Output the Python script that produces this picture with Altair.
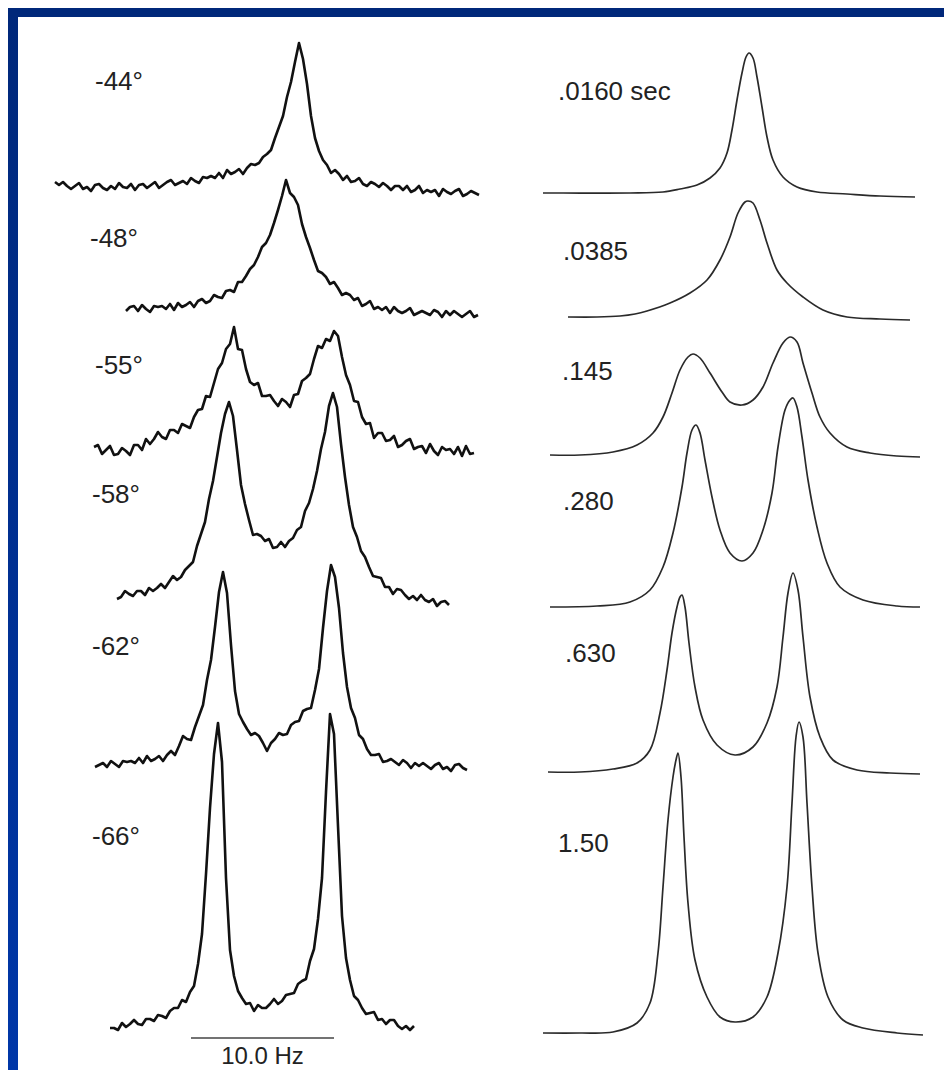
import altair as alt
import pandas as pd

# ---------------- experimental spectra (left column) ----------------
# heights above each trace's baseline, one sample every EXP_STEP figure units
EXP_NAMES = ["-44°", "-48°", "-55°", "-58°", "-62°", "-66°"]
EXP_44 = [8, 5, 8, 4, 1, 4, 7, 1, 3, -1,
          5, 6, 2, 0, 4, 1, 7, 3, 2, 6,
          0, 5, 6, 2, 5, 8, 2, 5, 8, 10,
          5, 7, 9, 6, 12, 9, 7, 13, 12, 14,
          12, 17, 12, 20, 16, 18, 21, 16, 22, 26,
          25, 27, 33, 36, 40, 52, 63, 74, 93, 108,
          128, 147, 131, 106, 74, 52, 39, 30, 25, 17,
          20, 16, 10, 14, 8, 9, 12, 6, 4, 8,
          6, 3, 7, 4, 0, 4, 4, 0, 4, -2,
          0, 4, -3, 0, -2, 0, -6, 1, -2, -4,
          -1, 1, -6, -4, -1, -3, -5]
EXP_48 = [4, 8, 9, 4, 10, 6, 3, 9, 8, 9,
          6, 11, 5, 12, 8, 10, 13, 8, 14, 16,
          12, 14, 20, 18, 17, 24, 25, 23, 33, 33,
          39, 46, 50, 58, 68, 72, 80, 92, 105, 119,
          135, 122, 118, 110, 91, 78, 67, 55, 44, 42,
          38, 31, 33, 27, 20, 22, 20, 15, 17, 9,
          11, 14, 6, 8, 5, 8, 2, 8, 4, 2,
          4, 7, 0, 2, 4, 2, 0, 5, 3, -2,
          4, 0, 4, 1, -2, 1, 4, -2, 0]
EXP_55 = [8, 10, 1, 5, 9, 0, 1, 7, 4, 0,
          10, 10, 5, 16, 11, 16, 23, 18, 16, 25,
          25, 22, 31, 29, 27, 38, 45, 46, 59, 58,
          72, 86, 92, 106, 111, 128, 106, 105, 86, 73,
          70, 72, 59, 59, 60, 54, 49, 56, 53, 48,
          60, 61, 74, 77, 81, 96, 109, 107, 116, 114,
          124, 119, 98, 80, 70, 54, 53, 38, 31, 32,
          17, 22, 22, 14, 15, 19, 8, 10, 14, 16,
          6, 8, 9, 2, 11, 4, 0, 8, 5, 6,
          1, 8, -1, 9, 1, 2]
EXP_58 = [4, 6, 12, 9, 7, 12, 12, 8, 15, 12,
          15, 19, 15, 21, 27, 23, 26, 33, 37, 41,
          57, 69, 81, 104, 122, 146, 170, 189, 201, 187,
          153, 118, 99, 83, 68, 69, 67, 62, 64, 55,
          56, 61, 56, 62, 65, 73, 76, 92, 100, 114,
          132, 154, 171, 197, 210, 196, 159, 126, 98, 76,
          66, 52, 46, 36, 27, 26, 25, 16, 16, 9,
          14, 13, 8, 4, 7, 3, 8, 3, 1, 4,
          -3, 1, 2, -2]
EXP_62 = [-2, 0, 2, -2, 4, 1, -2, 4, 3, 4,
          2, 7, 2, 9, 4, 6, 9, 4, 10, 14,
          10, 19, 29, 26, 25, 38, 49, 60, 85, 105,
          138, 173, 193, 172, 120, 74, 51, 43, 36, 30,
          32, 29, 22, 14, 22, 26, 32, 30, 31, 40,
          43, 44, 54, 56, 57, 75, 96, 137, 174, 200,
          188, 157, 112, 78, 57, 47, 30, 26, 16, 10,
          10, 11, 3, 4, 6, 3, 0, 5, 2, -3,
          2, -1, 2, -1, -4, 0, 2, -4, -2, -6,
          0, 1, -3, -5]
EXP_66 = [2, 2, 0, 7, 3, 6, 10, 6, 5, 11,
          11, 9, 15, 14, 12, 19, 22, 22, 30, 28,
          38, 44, 66, 96, 156, 222, 276, 307, 268, 152,
          80, 54, 39, 32, 26, 27, 19, 25, 22, 22,
          26, 31, 26, 29, 35, 36, 37, 46, 49, 51,
          69, 81, 111, 152, 238, 316, 296, 204, 114, 72,
          50, 34, 30, 22, 16, 17, 18, 10, 11, 6,
          10, 10, 4, 1, 4, 0, 4]
EXP_SERIES = [EXP_44, EXP_48, EXP_55, EXP_58, EXP_62, EXP_66]

# ---------------- simulated spectra (right column) ----------------
SIM_NAMES = [".0160 sec", ".0385", ".145", ".280", ".630", "1.50"]
SIM_X_0160 = [543, 563, 630, 663, 680, 697, 710, 720, 727, 732, 737, 742, 746,
              749, 753, 757, 762, 767, 773, 783, 797, 817, 847, 880, 915]
SIM_H_0160 = [0, 0, 0, 1, 4, 8, 15, 25, 40, 63, 93, 120, 136,
              140, 135, 116, 86, 56, 33, 16, 6, 1, -1, -3, -4]
SIM_X_0385 = [568, 597, 620, 635, 647, 670, 690, 707, 720, 730, 738, 745, 748, 753,
              760, 767, 777, 787, 803, 823, 847, 880, 910]
SIM_H_0385 = [0, 0, 1, 3, 6, 14, 24, 37, 57, 80, 104, 115, 116, 114,
              97, 74, 47, 34, 20, 7, 0, -2, -3]
SIM_X_145 = [550, 580, 613, 637, 653, 663, 672, 680, 688, 693, 700, 710, 722, 730,
             742, 753, 763, 773, 783, 790, 797, 803, 812, 820, 830, 847, 870, 897, 920]
SIM_H_145 = [0, 0, 3, 10, 22, 38, 62, 85, 98, 101, 97, 82, 63, 53,
             50, 55, 68, 92, 112, 118, 113, 92, 62, 38, 22, 8, 2, -1, -2]
SIM_X_280 = [550, 597, 630, 650, 663, 673, 682, 687, 692, 696, 700, 705, 712, 720,
             730, 742, 753, 763, 772, 778, 785, 790, 793, 797, 802, 808, 817, 827,
             840, 863, 897, 920]
SIM_H_280 = [0, 1, 5, 17, 40, 74, 120, 154, 177, 182, 174, 147, 110, 77,
             54, 46, 54, 77, 114, 160, 197, 207, 209, 200, 170, 127, 80, 44,
             20, 7, 1, 0]
SIM_X_630 = [548, 580, 613, 637, 650, 660, 667, 672, 677, 680, 682, 685, 689, 695,
             703, 717, 735, 753, 767, 777, 783, 788, 793, 798, 803, 810, 820, 833,
             857, 890, 920]
SIM_H_630 = [0, 0, 3, 9, 22, 59, 102, 139, 165, 175, 177, 165, 129, 85,
             52, 27, 17, 25, 49, 85, 135, 179, 199, 182, 135, 75, 35, 12,
             2, -1, -2]
SIM_X_150 = [543, 580, 613, 637, 650, 658, 663, 668, 673, 676, 678, 681, 684, 688,
             695, 707, 720, 735, 753, 767, 778, 787, 792, 796, 799, 803, 807, 812,
             818, 828, 843, 863, 897, 923]
SIM_H_150 = [0, 0, 1, 10, 30, 80, 146, 213, 256, 273, 280, 256, 196, 130,
             73, 36, 16, 11, 16, 36, 80, 146, 230, 296, 311, 296, 230, 146,
             80, 36, 13, 5, 0, -2]
SIM_SERIES = [(SIM_X_0160, SIM_H_0160), (SIM_X_0385, SIM_H_0385),
              (SIM_X_145, SIM_H_145), (SIM_X_280, SIM_H_280),
              (SIM_X_630, SIM_H_630), (SIM_X_150, SIM_H_150)]

SCALE_BAR_HZ = 10.0
SCALE_BAR_LABEL = "10.0 Hz"

# ---------------- layout (figure units) ----------------
UNITS_PER_HZ = 14.3
EXP_FIRST = [55, 126, 94, 117, 95, 110]
EXP_STEP = 4
EXP_BASE = [190, 315, 455, 603, 765, 1030]
SIM_BASE = [193, 317, 455, 607, 772, 1033]
EXP_LABEL_POS = [(95, 90), (90, 247), (95, 374), (92, 503), (92, 655), (92, 845)]
SIM_LABEL_POS = [(558, 100), (563, 260), (562, 380), (563, 510), (565, 662), (558, 852)]
BAR_START, BAR_Y = 191, 1038
BAR_LABEL_Y = 1064

rows = []
for name, vals, x0, base in zip(EXP_NAMES, EXP_SERIES, EXP_FIRST, EXP_BASE):
    for i, h in enumerate(vals):
        rows.append({"series": name, "kind": "exp", "i": i,
                     "x": x0 + EXP_STEP * i, "y": base - h})
for name, (xs_, hs), base in zip(SIM_NAMES, SIM_SERIES, SIM_BASE):
    for i, (xv, h) in enumerate(zip(xs_, hs)):
        rows.append({"series": name, "kind": "sim", "i": i, "x": xv, "y": base - h})
df = pd.DataFrame(rows)

labels = pd.DataFrame(
    [{"text": n, "x": p[0], "y": p[1]} for n, p in zip(EXP_NAMES, EXP_LABEL_POS)]
    + [{"text": n, "x": p[0], "y": p[1]} for n, p in zip(SIM_NAMES, SIM_LABEL_POS)]
)
bar = pd.DataFrame([{"x": BAR_START, "x2": BAR_START + SCALE_BAR_HZ * UNITS_PER_HZ,
                     "y": BAR_Y, "text": SCALE_BAR_LABEL,
                     "xm": BAR_START + SCALE_BAR_HZ * UNITS_PER_HZ / 2,
                     "ylab": BAR_LABEL_Y}])

W, H = 936, 1062
xs = alt.Scale(domain=[8, 944], nice=False, zero=False)
ys = alt.Scale(domain=[8, 1070], nice=False, zero=False, reverse=True)
X = alt.X("x:Q", scale=xs, axis=None)
Y = alt.Y("y:Q", scale=ys, axis=None)

frame_src = pd.DataFrame([{"k": 0}])
left_strip = alt.Chart(frame_src).mark_rect(
    color=alt.LinearGradient(
        gradient="linear",
        stops=[alt.GradientStop(color="#00287a", offset=0),
               alt.GradientStop(color="#0037a8", offset=1)],
        x1=0, x2=0, y1=0, y2=1),
).encode(x=alt.value(0), x2=alt.value(10), y=alt.value(0), y2=alt.value(H))
top_strip = alt.Chart(frame_src).mark_rect(color="#00287a").encode(
    x=alt.value(0), x2=alt.value(W), y=alt.value(0), y2=alt.value(9))

exp_lines = alt.Chart(df[df.kind == "exp"]).mark_line(
    color="#111111", strokeWidth=2.6, strokeJoin="round"
).encode(x=X, y=Y, detail="series:N", order="i:Q")

sim_lines = alt.Chart(df[df.kind == "sim"]).mark_line(
    color="#2a2a2a", strokeWidth=1.7, interpolate="catmull-rom"
).encode(x=X, y=Y, detail="series:N", order="i:Q")

label_text = alt.Chart(labels).mark_text(
    align="left", baseline="alphabetic", font="Liberation Sans", fontSize=26,
    color="#222222"
).encode(x=X, y=Y, text="text:N")

bar_rule = alt.Chart(bar).mark_rule(color="#444444", strokeWidth=1.6).encode(
    x=X, x2="x2:Q", y=Y)
bar_text = alt.Chart(bar).mark_text(
    align="center", baseline="alphabetic", font="Liberation Sans", fontSize=24,
    color="#222222"
).encode(x=alt.X("xm:Q", scale=xs, axis=None),
         y=alt.Y("ylab:Q", scale=ys, axis=None), text="text:N")

chart = alt.layer(left_strip, top_strip, exp_lines, sim_lines, label_text,
                  bar_rule, bar_text).properties(
    width=W, height=H,
    autosize=alt.AutoSizeParams(type="none"),
    padding=0,
    background="white",
).configure_view(fill="white", stroke=None)

chart.save("out.html", embed_options={"renderer": "svg", "actions": False})
